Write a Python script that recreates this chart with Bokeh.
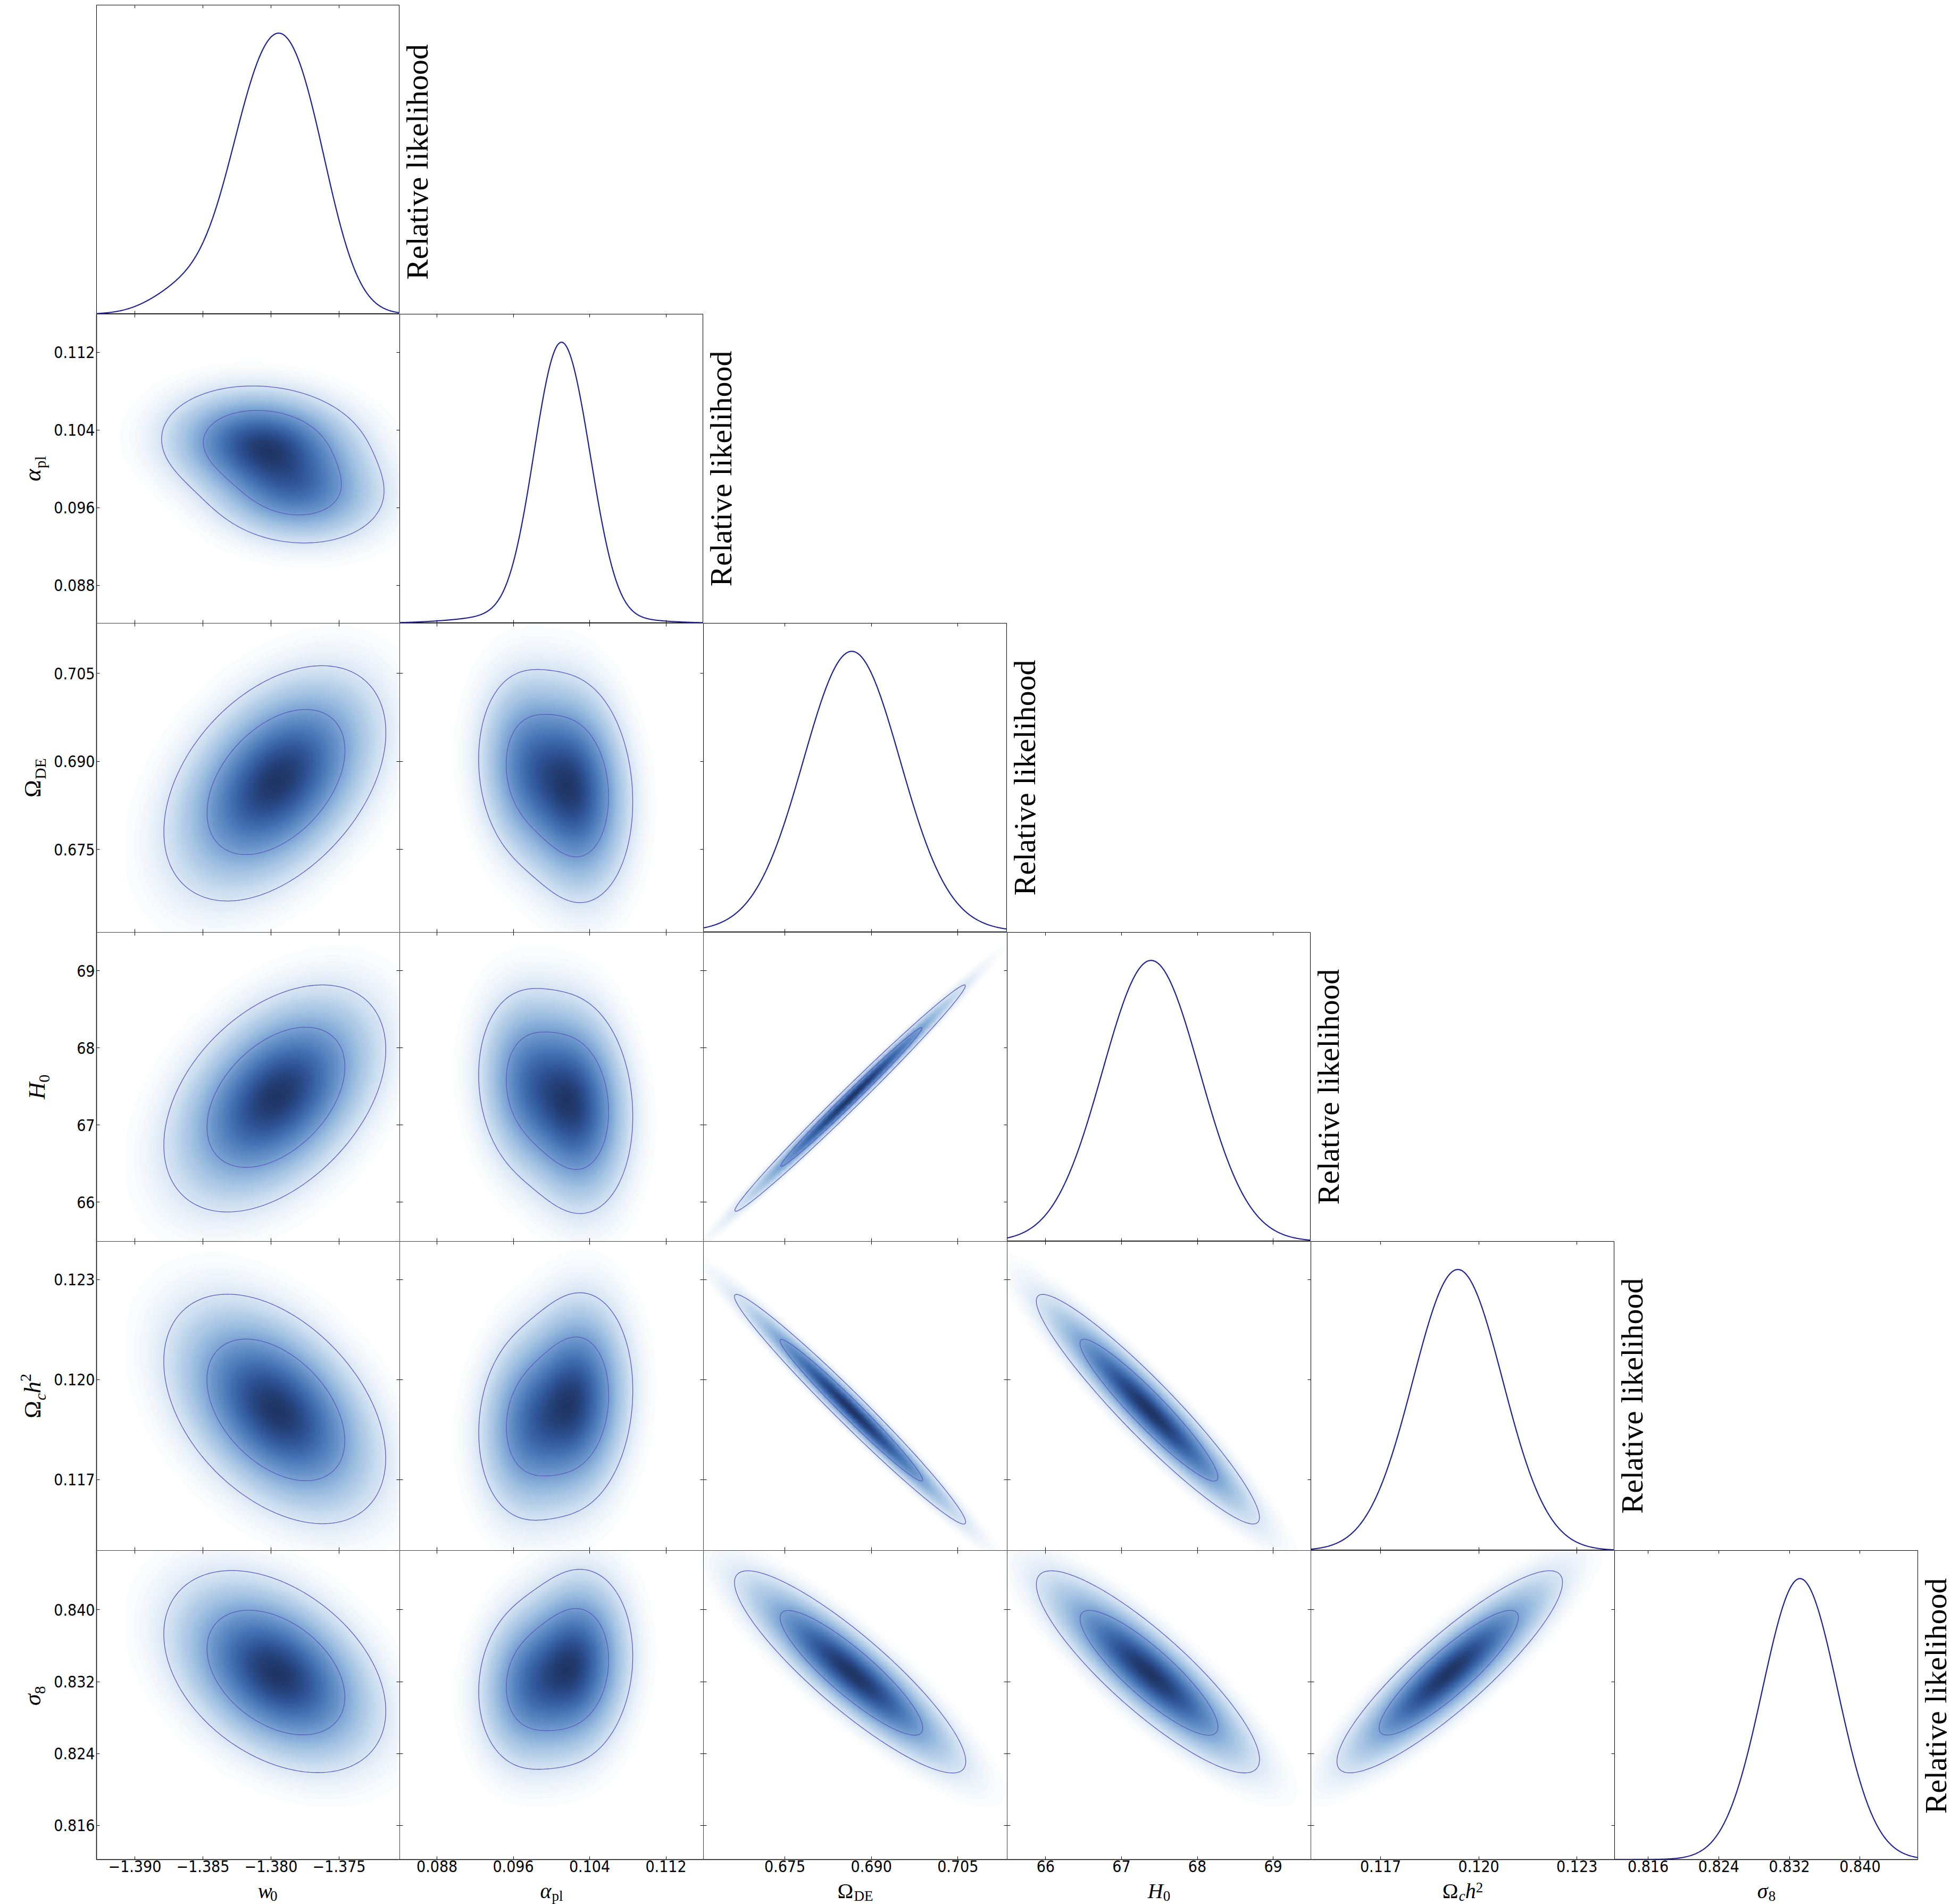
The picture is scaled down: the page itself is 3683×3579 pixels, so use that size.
import numpy as np
from bokeh.plotting import figure
from bokeh.models import Range1d, FixedTicker, LinearAxis, LinearColorMapper, Label, GridBox
from bokeh.embed import file_html
from bokeh.resources import INLINE

# ---------------- data ----------------
axis_lo = [-1.39281, 0.08409, 0.66088, 65.493, 0.11487, 0.81220]
axis_hi = [-1.37055, 0.11593, 0.71355, 69.497, 0.12415, 0.84660]

w0_ticks = [-1.390, -1.385, -1.380, -1.375]
alpha_ticks = [0.088, 0.096, 0.104, 0.112]
ode_ticks = [0.675, 0.690, 0.705]
h0_ticks = [66.0, 67.0, 68.0, 69.0]
och2_ticks = [0.117, 0.120, 0.123]
s8_ticks = [0.816, 0.824, 0.832, 0.840]

w0_tick_labels = ["\u22121.390", "\u22121.385", "\u22121.380", "\u22121.375"]
alpha_tick_labels = ["0.088", "0.096", "0.104", "0.112"]
ode_tick_labels = ["0.675", "0.690", "0.705"]
h0_tick_labels = ["66", "67", "68", "69"]
och2_tick_labels = ["0.117", "0.120", "0.123"]
s8_tick_labels = ["0.816", "0.824", "0.832", "0.840"]

axis_label_main = ["w", "\u03b1", "\u03a9", "H", "\u03a9", "\u03c3"]
axis_label_sub = ["0", "pl", "DE", "0", "c", "8"]
axis_label_after = ["", "", "", "", "h", ""]
axis_label_sup = ["", "", "", "", "2", ""]
diag_label = "Relative likelihood"

# 1D marginals: Gaussian-mixture description (centres, widths, relative amplitudes)
w0_1d_mean = [-1.3810, -1.3777, -1.3862]
w0_1d_sigma = [0.0024, 0.0023, 0.0024]
w0_1d_amp = [1.0, 0.9, 0.14]
alpha_1d_mean = [0.1006, 0.1036, 0.0998]
alpha_1d_sigma = [0.0026, 0.0022, 0.0065]
alpha_1d_amp = [1.0, 0.25, 0.05]
ode_1d_mean = [0.6866, 0.6866]
ode_1d_sigma = [0.0083, 0.0130]
ode_1d_amp = [1.0, 0.06]
h0_1d_mean = [67.39]
h0_1d_sigma = [0.64]
h0_1d_amp = [1.0]
och2_1d_mean = [0.11936]
och2_1d_sigma = [0.00137]
och2_1d_amp = [1.0]
s8_1d_mean = [0.8332]
s8_1d_sigma = [0.00425]
s8_1d_amp = [1.0]

# 2D joint posterior: two-component Gaussian mixture
mix_weight = [0.62, 0.38]
mix_mean_a = [-1.3806, 0.1025, 0.6850, 67.25, 0.11935, 0.8338]
mix_mean_b = [-1.3782, 0.0979, 0.6888, 67.53, 0.11869, 0.8318]
mix_sigma_a = [0.0032, 0.0026, 0.0082, 0.60, 0.00140, 0.0046]
mix_sigma_b = [0.0030, 0.0026, 0.0076, 0.56, 0.00132, 0.0043]
corr_w0 = [1.0, -0.10, 0.38, 0.38, -0.38, -0.34]
corr_alpha = [-0.10, 1.0, -0.10, -0.10, 0.10, 0.10]
corr_ode = [0.38, -0.10, 1.0, 0.992, -0.982, -0.88]
corr_h0 = [0.38, -0.10, 0.992, 1.0, -0.94, -0.86]
corr_och2 = [-0.38, 0.10, -0.982, -0.94, 1.0, 0.88]
corr_s8 = [-0.34, 0.10, -0.88, -0.86, 0.88, 1.0]

# ---------------- assembly ----------------
tick_values = [w0_ticks, alpha_ticks, ode_ticks, h0_ticks, och2_ticks, s8_ticks]
tick_texts = [w0_tick_labels, alpha_tick_labels, ode_tick_labels, h0_tick_labels,
              och2_tick_labels, s8_tick_labels]
one_d = [(w0_1d_mean, w0_1d_sigma, w0_1d_amp), (alpha_1d_mean, alpha_1d_sigma, alpha_1d_amp),
         (ode_1d_mean, ode_1d_sigma, ode_1d_amp), (h0_1d_mean, h0_1d_sigma, h0_1d_amp),
         (och2_1d_mean, och2_1d_sigma, och2_1d_amp), (s8_1d_mean, s8_1d_sigma, s8_1d_amp)]
mix_means = [mix_mean_a, mix_mean_b]
mix_sigmas = [mix_sigma_a, mix_sigma_b]
corr = [corr_w0, corr_alpha, corr_ode, corr_h0, corr_och2, corr_s8]
N = 6

FW, FH = 571, 581          # panel frame size
WL = 98                    # column holding the rotated y labels
TL = 82                    # room for left tick labels
TOP = 9
TB = 36                    # room for bottom tick labels
HB = 48                    # row holding the x labels
LAST_W = 70
CURVE_COLOR = "#1f1f96"
CONTOUR_COLOR = "#5a5abf"
TICK_FONT = "DejaVu Sans Condensed"
TICK_SIZE = "30px"
SERIF = "Liberation Serif"
MID = 0.3375               # centre of the serif font box above its baseline, in em

stops = [(0.0, "#ffffff"), (0.01, "#f4f8fc"), (0.03, "#e5eef8"), (0.06, "#d2e2f2"),
         (0.12, "#b6cfe9"), (0.25, "#8cb2db"), (0.40, "#6792c9"), (0.60, "#4472b4"),
         (0.80, "#2e5396"), (1.0, "#1f3566")]


def hex2rgb(h):
    return np.array([int(h[1:3], 16), int(h[3:5], 16), int(h[5:7], 16)], dtype=float)


palette = []
for t in np.linspace(0, 1, 256):
    for (t0, c0), (t1, c1) in zip(stops[:-1], stops[1:]):
        if t0 <= t <= t1:
            f = (t - t0) / (t1 - t0)
            c = hex2rgb(c0) * (1 - f) + hex2rgb(c1) * f
            palette.append("#%02x%02x%02x" % tuple(int(round(v)) for v in c))
            break
mapper = LinearColorMapper(palette=palette, low=0.0, high=1.0)


def curve_1d(k, x):
    means, sigmas, amps = one_d[k]
    y = np.zeros_like(x)
    for m, s, a in zip(means, sigmas, amps):
        y += a * np.exp(-0.5 * ((x - m) / s) ** 2)
    return y


def joint(jx, iy, X, Y):
    Z = np.zeros_like(X)
    r = corr[jx][iy]
    for w, mu, sg in zip(mix_weight, mix_means, mix_sigmas):
        sx, sy = sg[jx], sg[iy]
        u = (X - mu[jx]) / sx
        v = (Y - mu[iy]) / sy
        q = (u * u - 2 * r * u * v + v * v) / (1 - r * r)
        Z += w * np.exp(-0.5 * q) / (sx * sy * np.sqrt(1 - r * r))
    return Z


def hpd_levels(jx, iy, probs):
    lx, hx = axis_lo[jx], axis_hi[jx]
    ly, hy = axis_lo[iy], axis_hi[iy]
    ex, ey = (hx - lx), (hy - ly)
    gx = np.linspace(lx - ex, hx + ex, 500)
    gy = np.linspace(ly - ey, hy + ey, 500)
    X, Y = np.meshgrid(gx, gy)
    z = np.sort(joint(jx, iy, X, Y).ravel())[::-1]
    c = np.cumsum(z)
    c /= c[-1]
    return [z[np.searchsorted(c, p)] for p in probs]


def add_axis(p, loc, k, show):
    ax = LinearAxis(ticker=FixedTicker(ticks=tick_values[k]))
    ax.major_tick_in = 6
    ax.major_tick_out = 0
    ax.major_tick_line_color = "black"
    ax.minor_tick_line_color = None
    ax.axis_label = None
    if show:
        ax.axis_line_color = "black"
        ax.axis_line_width = 1.5
        ax.major_label_overrides = {float(t): s for t, s in zip(tick_values[k], tick_texts[k])}
        ax.major_label_text_font = TICK_FONT
        ax.major_label_text_font_size = TICK_SIZE
        ax.major_label_text_color = "black"
        ax.major_label_standoff = 3 if loc == "left" else 1
    else:
        ax.axis_line_color = None
        ax.major_label_text_color = None
        ax.major_label_text_font_size = "0px"
        ax.major_label_standoff = 0
    p.add_layout(ax, loc)


EM = {"w": 0.667, "\u03b1": 0.55, "\u03a9": 0.77, "H": 0.72, "\u03c3": 0.52, "h": 0.5,
      "c": 0.444, "0": 0.5, "8": 0.5, "2": 0.5, "p": 0.5, "l": 0.278, "D": 0.722, "E": 0.611}


def label_pieces(k, main_sz, sub_sz, sub_shift, sup_shift):
    pcs = [(axis_label_main[k], "normal" if axis_label_main[k] == "\u03a9" else "italic",
            main_sz, 0)]
    pcs.append((axis_label_sub[k], "italic" if axis_label_sub[k] == "c" else "normal",
                sub_sz, sub_shift))
    if axis_label_after[k]:
        pcs.append((axis_label_after[k], "italic", main_sz, 0))
    if axis_label_sup[k]:
        pcs.append((axis_label_sup[k], "normal", sub_sz, sup_shift))
    return [(t, st, sz, sh, sum(EM.get(ch, 0.55) for ch in t) * sz) for t, st, sz, sh in pcs]


def plain_fig(w, h):
    p = figure(width=w, height=h, x_range=Range1d(0, w), y_range=Range1d(0, h),
               x_axis_location=None, y_axis_location=None, toolbar_location=None,
               output_backend="svg", min_border=0)
    p.xgrid.visible = False
    p.ygrid.visible = False
    p.outline_line_color = None
    p.background_fill_color = "white"
    p.border_fill_color = "white"
    return p


def xlabel_fig(k, w, xcenter, baseline_y):
    p = plain_fig(w, HB)
    pcs = label_pieces(k, 40, 27, -6, 10)
    total = sum(pc[4] for pc in pcs)
    x0 = xcenter - total / 2
    for t, st, sz, sh, wd in pcs:
        p.add_layout(Label(x=x0, y=baseline_y + sh + MID * sz, text=t, text_font=SERIF,
                           text_font_style=st, text_font_size="%dpx" % sz, text_align="left",
                           text_baseline="middle", text_color="black"))
        x0 += wd
    return p


def ylabel_fig(k, h, ycenter, baseline_x):
    p = plain_fig(WL, h)
    pcs = label_pieces(k, 44, 30, -9, 18)
    total = sum(pc[4] for pc in pcs)
    y0 = ycenter - total / 2
    for t, st, sz, sh, wd in pcs:
        p.add_layout(Label(x=baseline_x - sh - MID * sz, y=y0, text=t, text_font=SERIF,
                           text_font_style=st, text_font_size="%dpx" % sz, text_align="left",
                           text_baseline="middle", text_color="black",
                           angle=90, angle_units="deg"))
        y0 += wd
    return p


def rel_fig(w, h, ycenter):
    p = plain_fig(w, h)
    p.add_layout(Label(x=53 - MID * 58, y=ycenter, text=diag_label, text_font=SERIF,
                       text_font_size="58px", text_align="center", text_baseline="middle",
                       text_color="black", angle=90, angle_units="deg"))
    return p


children = []
for i in range(N):
    row_h = FH + (TOP if i == 0 else 0) + (TB if i == N - 1 else 0)
    if i > 0:
        base_x = 76 if max(len(s) for s in tick_texts[i]) > 3 else 84
        children.append((ylabel_fig(i, row_h, (TB if i == N - 1 else 0) + FH / 2, base_x), i, 0))
    for j in range(i + 1):
        w = FW + (TL if j == 0 else 0)
        xr = (axis_lo[j], axis_hi[j])
        yr = (0.0, 1.1) if i == j else (axis_lo[i], axis_hi[i])
        p = figure(width=w, height=row_h, x_range=Range1d(*xr), y_range=Range1d(*yr),
                   x_axis_location=None, y_axis_location=None, toolbar_location=None,
                   output_backend="svg", min_border=0)
        p.xgrid.visible = False
        p.ygrid.visible = False
        p.background_fill_color = "white"
        p.border_fill_color = "white"
        p.min_border_left = TL if j == 0 else 0
        p.min_border_top = TOP if i == 0 else 0
        p.min_border_bottom = TB if i == N - 1 else 0
        p.outline_line_color = "black"
        p.outline_line_width = 1
        if i == j:
            x = np.linspace(xr[0], xr[1], 600)
            y = curve_1d(j, x)
            p.line(x, y / y.max(), line_color=CURVE_COLOR, line_width=2.2)
            add_axis(p, "below", j, i == N - 1)
            add_axis(p, "above", j, False)
        else:
            gx = np.linspace(xr[0], xr[1], 260)
            gy = np.linspace(yr[0], yr[1], 260)
            X, Y = np.meshgrid(gx, gy)
            Z = joint(j, i, X, Y)
            zmax = Z.max()
            p.image(image=[Z / zmax], x=xr[0], y=yr[0], dw=xr[1] - xr[0], dh=yr[1] - yr[0],
                    color_mapper=mapper)
            l95, l68 = hpd_levels(j, i, [0.95, 0.68])
            p.contour(x=gx, y=gy, z=Z / zmax, levels=[l95 / zmax, l68 / zmax],
                      line_color=CONTOUR_COLOR, line_width=1.3)
            add_axis(p, "below", j, i == N - 1)
            add_axis(p, "above", j, False)
            add_axis(p, "left", i, j == 0)
            add_axis(p, "right", i, False)
        children.append((p, i, j + 1))
    if i < N - 1:
        children.append((rel_fig(FW, row_h, FH / 2), i, i + 2))
    else:
        children.append((rel_fig(LAST_W, row_h, TB + FH / 2), i, i + 2))

for j in range(N):
    w = FW + (TL if j == 0 else 0)
    children.append((xlabel_fig(j, w, (TL if j == 0 else 0) + FW / 2, 12), N, j + 1))

grid = GridBox(children=children, spacing=0)
open("out.html", "w").write(file_html(grid, INLINE))
